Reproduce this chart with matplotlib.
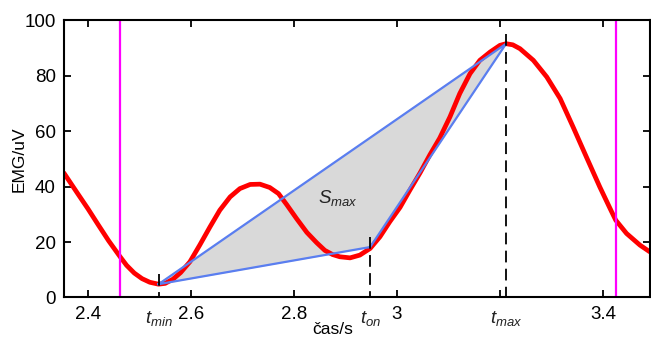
import matplotlib
matplotlib.use("Agg")
import matplotlib.pyplot as plt

plt.rcParams['font.family'] = ['Liberation Sans', 'DejaVu Sans']
plt.rcParams['mathtext.fontset'] = 'custom'
plt.rcParams['mathtext.it'] = 'Liberation Sans:italic'
plt.rcParams['mathtext.rm'] = 'Liberation Sans'

# EMG curve
t = [2.353, 2.38, 2.40, 2.42, 2.44, 2.462, 2.475, 2.49, 2.505, 2.52, 2.537, 2.55,
     2.565, 2.58, 2.598, 2.617, 2.637, 2.656, 2.676, 2.695, 2.715, 2.734, 2.753,
     2.770, 2.786, 2.805, 2.825, 2.844, 2.860, 2.875, 2.889, 2.909, 2.928, 2.948,
     2.967, 2.986, 3.006, 3.025, 3.045, 3.064, 3.083, 3.103, 3.122, 3.142, 3.161,
     3.181, 3.200, 3.212, 3.225, 3.239, 3.265, 3.291, 3.317, 3.342, 3.368, 3.394,
     3.414, 3.425, 3.446, 3.472, 3.491]
emg = [45, 37.5, 32, 26.2, 20.5, 14.8, 11.6, 8.8, 6.8, 5.5, 4.8, 5.1,
       6.6, 9.0, 12.9, 18.9, 25.5, 31.5, 36.3, 39.3, 40.8, 40.9, 39.7,
       37.5, 33.5, 28.5, 23.5, 19.8, 17.0, 15.5, 14.7, 14.3, 15.3, 17.7,
       21.9, 27.3, 32.5, 38.7, 45.0, 51.5, 57.5, 65.2, 73.6, 80.8, 85.6,
       88.6, 91.0, 91.6, 91.2, 89.8, 85.6, 79.6, 71.8, 61.6, 50.7, 39.9,
       32.1, 27.9, 23.1, 18.9, 16.5]

# characteristic points
t_min, y_min = 2.537, 4.8
t_on, y_on = 2.948, 18.2
t_max, y_max = 3.212, 91.6
tri_t = [t_min, t_on, t_max, t_min]
tri_y = [y_min, y_on, y_max, y_min]

window = [2.462, 3.425]

xticks = [2.4, 2.6, 2.8, 3.0, 3.2, 3.4]
xticklabels = ['2.4', '2.6', '2.8', '3', '', '3.4']
yticks = [0, 20, 40, 60, 80, 100]

fig = plt.figure(figsize=(6.51, 3.41), dpi=100)
ax = fig.add_axes([0.0983, 0.1276, 0.9000, 0.8125])

ax.fill(tri_t, tri_y, color='#d9d9d9', zorder=1)
ax.plot(t, emg, color='#ff0000', lw=3.4, zorder=2, solid_joinstyle='round', solid_capstyle='round')
ax.plot(tri_t, tri_y, color='#5a7ef0', lw=1.6, zorder=3)

for w in window:
    ax.axvline(w, color='#ff00ff', lw=1.6, zorder=2)

for tx, ty in [(t_min, y_min), (t_on, y_on), (t_max, y_max)]:
    ax.plot([tx, tx], [ty + 3.5, 0], color='black', lw=1.3, dashes=(6.5, 3.5), zorder=4)

ax.text(2.885, 36, r'$S_{max}$', fontsize=13.5, ha='center', va='center', color='#222222')

for tx, lab in [(t_min, r'$t_{min}$'), (t_on, r'$t_{on}$'), (t_max, r'$t_{max}$')]:
    ax.text(tx, -4.0, lab, fontsize=13.5, ha='center', va='top', color='#222222')

ax.set_xlim(2.3534, 3.4913)
ax.set_ylim(0, 100)
ax.set_xticks(xticks)
ax.set_xticklabels(xticklabels)
ax.set_yticks(yticks)
ax.tick_params(direction='in', length=5, width=1.3, top=True, right=True,
               labelsize=13.5, pad=6)
for s in ax.spines.values():
    s.set_linewidth(1.5)

ax.set_xlabel('čas/s', fontsize=12.5)
ax.xaxis.set_label_coords((333 - 64) / 586, -32.5 / 277)
ax.xaxis.label.set_va('center')
ax.set_ylabel('EMG/uV', fontsize=12.5, labelpad=-2)

fig.savefig('out.png', dpi=100)
